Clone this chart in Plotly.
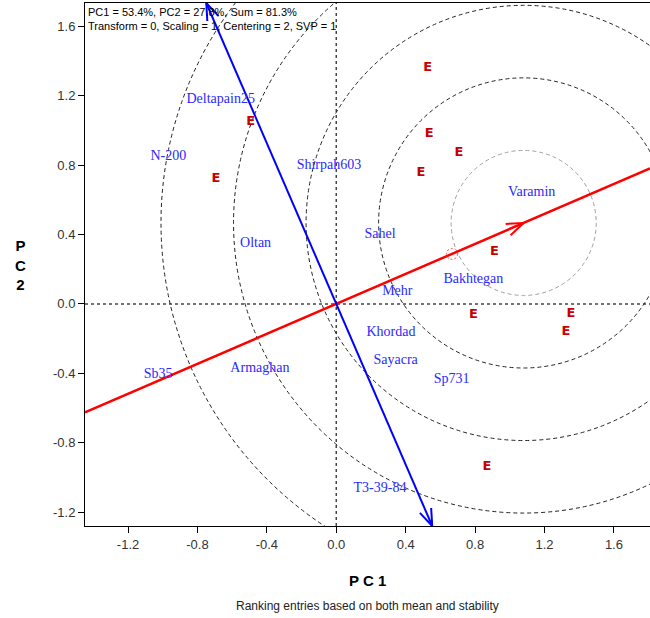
import math
import plotly.graph_objects as go

# ---------------- data ----------------
genotypes = ["Deltapain25", "N-200", "Shirpah603", "Oltan", "Sahel", "Varamin",
             "Bakhtegan", "Mehr", "Khordad", "Sayacra", "Sp731", "Armaghan",
             "Sb35", "T3-39-84"]
gen_pc1 = [-0.666, -0.968, -0.042, -0.465, 0.252, 1.126, 0.790, 0.352, 0.315,
           0.342, 0.665, -0.440, -1.026, 0.252]
gen_pc2 = [1.176, 0.849, 0.795, 0.346, 0.398, 0.644, 0.142, 0.071, -0.163,
           -0.327, -0.438, -0.371, -0.409, -1.062]

env_labels = ["E"] * 11
env_pc1 = [0.527, -0.493, 0.536, 0.707, -0.693, 0.488, 0.911, 0.790, 1.353, 1.324, 0.869]
env_pc2 = [1.362, 1.051, 0.980, 0.869, 0.719, 0.757, 0.301, -0.063, -0.058, -0.161, -0.939]

aea_slope = 0.432          # average environment axis slope
mean_env_pc1 = 0.667       # average environment (small circle)
ideal_pc1 = 1.08           # ideal genotype point on AEA
ring_step = 0.418          # radius step of concentric circles
n_rings = 5

tick_vals = [-1.2, -0.8, -0.4, 0.0, 0.4, 0.8, 1.2, 1.6]
tick_text = ["-1.2", "-0.8", "-0.4", "0.0", "0.4", "0.8", "1.2", "1.6"]

info_text = ("PC1 = 53.4%, PC2 = 27.8%, Sum = 81.3%<br>"
             "Transform = 0, Scaling = 1, Centering = 2, SVP = 1")
subtitle = "Ranking entries based on both mean and stability"

# ---------------- layout geometry ----------------
W, H = 650, 618
ML, MR, MT, MB = 85, 0, 3, 92
xr = [-1.448, 1.808]
yr = [-1.28, 1.734]
pw, ph = W - ML - MR, H - MT - MB
sx = pw / (xr[1] - xr[0])
sy = ph / (yr[1] - yr[0])


def arrow_barbs(tip, direction, length=18, half_angle=20):
    """Return x,y lists for an open arrowhead at tip pointing along direction (data units)."""
    dxp, dyp = direction[0] * sx, direction[1] * sy
    n = math.hypot(dxp, dyp)
    ux, uy = dxp / n, dyp / n
    xs, ys = [], []
    for sgn in (1, -1):
        a = math.radians(half_angle) * sgn
        bx = -(ux * math.cos(a) - uy * math.sin(a)) * length
        by = -(ux * math.sin(a) + uy * math.cos(a)) * length
        xs += [tip[0] + bx / sx, tip[0], None]
        ys += [tip[1] + by / sy, tip[1], None]
    return xs, ys


fig = go.Figure()

# red AEA line
red_x = [xr[0], xr[1]]
red_y = [aea_slope * v for v in red_x]
fig.add_trace(go.Scatter(x=red_x, y=red_y, mode="lines",
                         line=dict(color="#ff0000", width=2.5), hoverinfo="skip"))
ideal = (ideal_pc1, aea_slope * ideal_pc1)
bx, by = arrow_barbs(ideal, (1, aea_slope))
fig.add_trace(go.Scatter(x=bx, y=by, mode="lines",
                         line=dict(color="#ff0000", width=2), hoverinfo="skip"))

# blue AEC ordinate
perp = -1.0 / aea_slope
top_pt = (yr[1] / perp, yr[1])
bot_pt = (yr[0] / perp, yr[0])
fig.add_trace(go.Scatter(x=[top_pt[0], bot_pt[0]], y=[top_pt[1], bot_pt[1]], mode="lines",
                         line=dict(color="#0000ff", width=2), hoverinfo="skip"))
for tip in (top_pt, bot_pt):
    bx, by = arrow_barbs(tip, tip)
    fig.add_trace(go.Scatter(x=bx, y=by, mode="lines",
                             line=dict(color="#0000ff", width=2), hoverinfo="skip"))

# genotype labels
fig.add_trace(go.Scatter(x=gen_pc1, y=gen_pc2, mode="text", text=genotypes,
                         textposition="middle center", cliponaxis=False,
                         textfont=dict(family="Liberation Serif", size=14, color="#2a2aff"),
                         hoverinfo="skip"))
# environment markers
fig.add_trace(go.Scatter(x=env_pc1, y=env_pc2, mode="text", text=env_labels,
                         textposition="middle center", cliponaxis=False,
                         textfont=dict(family="DejaVu Sans", size=13, color="#c80000",
                                       weight="bold"),
                         hoverinfo="skip"))

shapes = []
# zero lines
shapes.append(dict(type="line", xref="x", yref="y", x0=xr[0], x1=xr[1], y0=0, y1=0,
                   line=dict(color="#444444", width=1.5, dash="3px,3px"), layer="below"))
shapes.append(dict(type="line", xref="x", yref="y", x0=0, x1=0, y0=yr[0], y1=yr[1],
                   line=dict(color="#444444", width=1.5, dash="3px,3px"), layer="below"))
# concentric circles around ideal point
for k in range(1, n_rings + 1):
    r = ring_step * k
    shapes.append(dict(type="circle", xref="x", yref="y",
                       x0=ideal[0] - r, x1=ideal[0] + r, y0=ideal[1] - r, y1=ideal[1] + r,
                       line=dict(color="#a0a0a0" if k == 1 else "#222222", width=1,
                                 dash="4px,3px"), layer="below"))
# average environment small circle
me = (mean_env_pc1, aea_slope * mean_env_pc1)
rr = 5.5 / sx
shapes.append(dict(type="circle", xref="x", yref="y",
                   x0=me[0] - rr, x1=me[0] + rr, y0=me[1] - rr, y1=me[1] + rr,
                   line=dict(color="#ff4444", width=1, dash="2px,2px")))

annotations = [
    dict(text=info_text, xref="paper", yref="paper", x=0, y=1, xanchor="left", yanchor="top",
         xshift=1, yshift=-1, showarrow=False, align="left",
         font=dict(family="Liberation Sans", size=11, color="#000000")),
    dict(text="<b>P C 1</b>", xref="paper", yref="paper", x=0.5, y=(0 - 54) / ph,
         xanchor="center", yanchor="middle", showarrow=False,
         font=dict(family="Liberation Sans", size=15, color="#000000")),
    dict(text=subtitle, xref="paper", yref="paper", x=0.5, y=(0 - 80) / ph,
         xanchor="center", yanchor="middle", showarrow=False,
         font=dict(family="Liberation Sans", size=12, color="#222222")),
    dict(text="<b>P<br>C<br>2</b>", xref="paper", yref="paper", x=(20 - ML) / pw, y=0.5,
         xanchor="center", yanchor="middle", showarrow=False, align="center",
         font=dict(family="Liberation Sans", size=15, color="#000000")),
]

axis_common = dict(showgrid=False, zeroline=False, showline=True, linecolor="#000000",
                   linewidth=1, ticks="outside", ticklen=6, tickcolor="#000000",
                   tickvals=tick_vals, ticktext=tick_text,
                   tickfont=dict(family="Liberation Sans", size=13, color="#333333"))

fig.update_layout(
    width=W, height=H, margin=dict(l=ML, r=MR, t=MT, b=MB),
    paper_bgcolor="white", plot_bgcolor="white", showlegend=False,
    xaxis=dict(range=xr, mirror=True, **axis_common),
    yaxis=dict(range=yr, **axis_common),
    shapes=shapes, annotations=annotations,
)

fig.write_html("out.html", config={"displayModeBar": False},
               post_script="document.body.style.margin='0';document.body.style.overflow='hidden';")
